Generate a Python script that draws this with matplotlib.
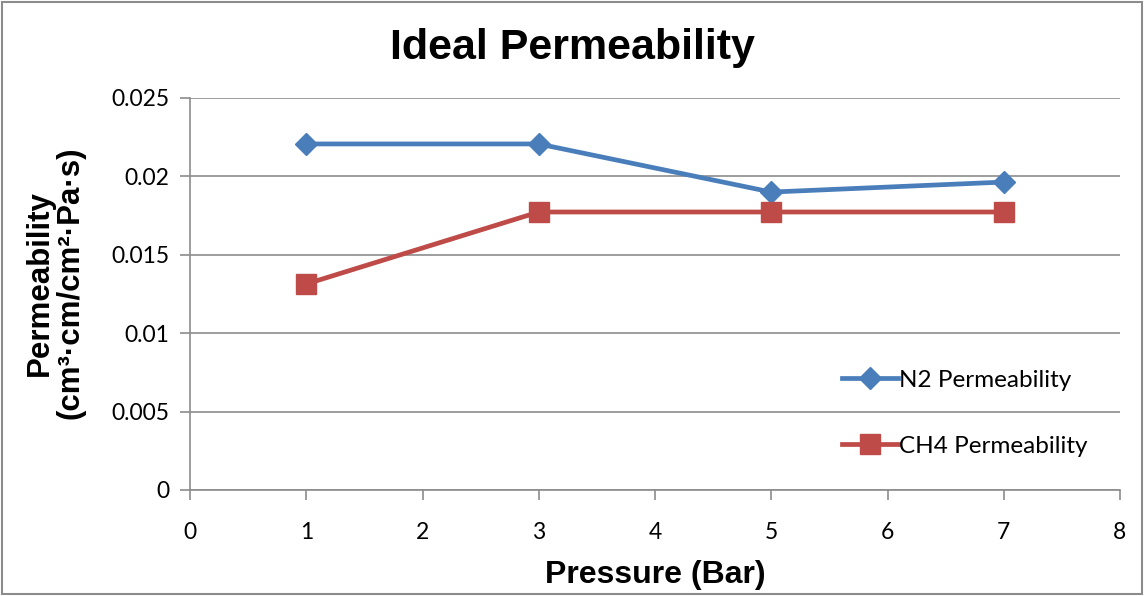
import matplotlib
matplotlib.use("Agg")
import matplotlib.pyplot as plt
from matplotlib.patches import Rectangle

pressure = [1, 3, 5, 7]
n2_perm = [0.02207, 0.02207, 0.0190, 0.01964]
ch4_perm = [0.01314, 0.01773, 0.01773, 0.01773]
x_ticks = [0, 1, 2, 3, 4, 5, 6, 7, 8]
y_ticks = [0, 0.005, 0.01, 0.015, 0.02, 0.025]
y_labels = ["0", "0.005", "0.01", "0.015", "0.02", "0.025"]

fig = plt.figure(figsize=(11.44, 5.96), dpi=100)
ax = fig.add_axes([190/1144, 1-490/596, 930/1144, 392/596])

grey = "#8c8c8c"
ax.plot(pressure, n2_perm, color="#4a7ebb", lw=3.4, marker="D", ms=11,
        mfc="#4a7ebb", mec="#4a7ebb", label="N2 Permeability", zorder=3)
ax.plot(pressure, ch4_perm, color="#be4b48", lw=3.4, marker="s", ms=14,
        mfc="#be4b48", mec="#be4b48", label="CH4 Permeability", zorder=3)

ax.set_xlim(0, 8)
ax.set_ylim(0, 0.025)
ax.set_xticks(x_ticks)
ax.set_xticklabels([str(t) for t in x_ticks])
ax.set_yticks(y_ticks)
ax.set_yticklabels(y_labels)
ax.grid(axis="y", color=grey, lw=1.2)
ax.set_axisbelow(True)
for s in ["top", "right"]:
    ax.spines[s].set_visible(False)
for s in ["left", "bottom"]:
    ax.spines[s].set_color(grey)
    ax.spines[s].set_linewidth(1.2)
ax.tick_params(axis="both", colors=grey, labelcolor="black", labelsize=16.5,
               length=7, width=1.2, direction="out")
ax.tick_params(axis="x", pad=16)
ax.tick_params(axis="y", pad=8)
for lab in ax.get_xticklabels() + ax.get_yticklabels():
    lab.set_fontfamily("Lato")

ax.set_xlabel("Pressure (Bar)", fontsize=23, fontweight="bold",
              family="Liberation Sans", labelpad=12)
fig.text(55/1144, 1-283/596, "Permeability\n(cm³·cm/cm²·Pa·s)", rotation=90,
         ha="center", va="center", fontsize=22.5, fontweight="bold",
         family="Liberation Sans", linespacing=1.05)
fig.text(572/1144, 1-48/596, "Ideal Permeability", ha="center", va="center",
         fontsize=31, fontweight="bold", family="Liberation Sans")

leg = ax.legend(loc="center left", bbox_to_anchor=(0.701, 0.196), frameon=False,
                labelspacing=1.85, handlelength=2.3, borderpad=0, borderaxespad=0,
                handletextpad=0.05, prop={"family": "Lato", "size": 17.5})

fig.patches.append(Rectangle((2/1144, 2/596), 1-4/1144, 1-4/596,
                             transform=fig.transFigure, fill=False,
                             edgecolor=grey, lw=1.5))
fig.savefig("out.png", dpi=100)
